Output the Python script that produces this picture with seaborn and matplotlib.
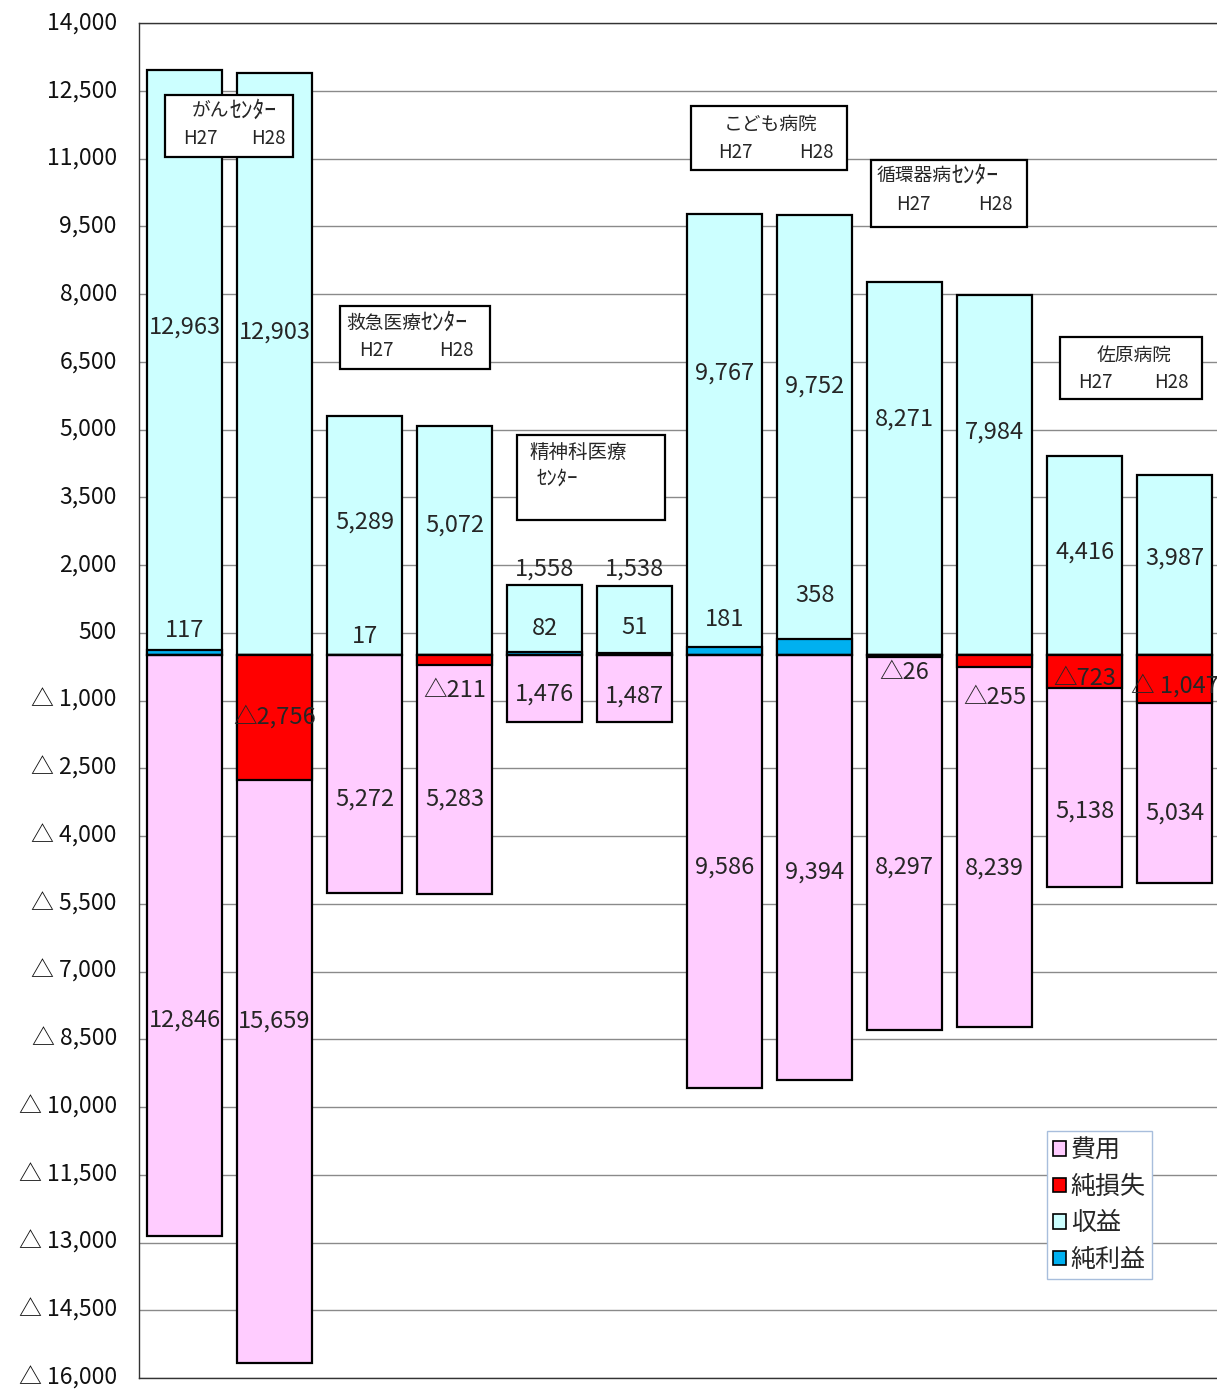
import numpy as np
import pandas as pd
import matplotlib
matplotlib.use("Agg")
import matplotlib.pyplot as plt
from matplotlib.patches import Patch, Rectangle
from matplotlib.ticker import FuncFormatter
import seaborn as sns

# データ（百万円）
bars = ["がんH27", "がんH28", "救急H27", "救急H28", "精神H27", "精神H28",
        "こどもH27", "こどもH28", "循環器H27", "循環器H28", "佐原H27", "佐原H28"]
revenue = [12963, 12903, 5289, 5072, 1558, 1538, 9767, 9752, 8271, 7984, 4416, 3987]
cost = [12846, 15659, 5272, 5283, 1476, 1487, 9586, 9394, 8297, 8239, 5138, 5034]
profit = [117, 0, 17, 0, 82, 51, 181, 358, 0, 0, 0, 0]
loss = [0, 2756, 0, 211, 0, 0, 0, 0, 26, 255, 723, 1047]
mid_text = ["117", "△2,756", "17", "△211", "82", "51",
            "181", "358", "△26", "△255", "△723", "△ 1,047"]

# ラベル位置（データ座標）
rev_lab_y = [7262, 7151, 2945, 2878, 1911, 1911, 6243, 5955, 5225, 4937, 2280, 2147]
mid_lab_y = [560, -1358, 427, -768, 604, 627, 804, 1335, -370, -923, -502, -679]
cost_lab_y = [-8076, -8098, -3183, -3183, -855, -900, -4687, -4797, -4687, -4709, -3447, -3491]

df = pd.DataFrame({"bar": bars, "rev": revenue, "cost": [-c for c in cost],
                   "profit": profit, "loss": [-l for l in loss]})

sns.set_theme(style="white")
plt.rcParams['font.family'] = ['Noto Sans CJK JP', 'DejaVu Sans']

W, H = 1217, 1389
fig = plt.figure(figsize=(W / 100, H / 100), dpi=100)
ax = fig.add_axes([139 / W, 1 - 1378 / H, (W - 139) / W, (1378 - 23) / H])

c_rev, c_prof, c_cost, c_loss = "#CCFFFF", "#00B0F0", "#FFCCFF", "#FF0000"
common = dict(data=df, x="bar", order=bars, ax=ax, width=0.833, saturation=1,
              errorbar=None, edgecolor="black", linewidth=1.6)
sns.barplot(y="rev", color=c_rev, **common)
sns.barplot(y="profit", color=c_prof, **common)
sns.barplot(y="cost", color=c_cost, **common)
sns.barplot(y="loss", color=c_loss, **common)

ax.set_xlim(-0.506, 11.47)
ax.set_ylim(-16000, 14000)
ax.set_yticks(np.arange(-16000, 14001, 1500))
ax.yaxis.set_major_formatter(FuncFormatter(
    lambda v, p: f"{int(v):,}" if v >= 0 else f"△ {int(-v):,}"))
ax.set_xticks([])
ax.set_xlabel("")
ax.set_ylabel("")
ax.tick_params(axis="y", length=0, pad=16, labelsize=16.5, labelcolor="#111111")
for lab in ax.get_yticklabels():
    lab.set_va("center")
ax.set_axisbelow(True)
ax.yaxis.grid(True, color="#8a8a8a", linewidth=1.0)
for side in ["left", "top", "bottom"]:
    ax.spines[side].set_visible(True)
    ax.spines[side].set_color("#333333")
    ax.spines[side].set_linewidth(1.0)
ax.spines["right"].set_visible(False)

# 数値ラベル
for i in range(len(bars)):
    ax.text(i, rev_lab_y[i], f"{revenue[i]:,}", ha="center", va="center", fontsize=17)
    ax.text(i, mid_lab_y[i], mid_text[i], ha="center", va="center", fontsize=17)
    ax.text(i, cost_lab_y[i], f"{cost[i]:,}", ha="center", va="center", fontsize=17)

# 病院名ボックス（ピクセル座標）
def px(x, y):
    return x / W, 1 - y / H

def name_box(x0, y0, x1, y1):
    fx, fy = px(x0, y1)
    fig.add_artist(Rectangle((fx, fy), (x1 - x0) / W, (y1 - y0) / H,
                             transform=fig.transFigure, facecolor="white",
                             edgecolor="black", linewidth=1.6, zorder=5))

def ftext(x, y, s, size=13.5, ha="center"):
    fx, fy = px(x, y)
    fig.text(fx, fy, s, ha=ha, va="center", fontsize=size, zorder=6)

def name_line(x, y, head, tail, size=13.5, tail_size=17):
    # 全角部分 + 半角カタカナ部分
    ftext(x, y, head, size, ha="left")
    ftext(x + len(head) * size / 0.72, y, tail, tail_size, ha="left")

name_box(165, 95, 293, 157)
name_line(192, 111, "がん", "ｾﾝﾀｰ")
ftext(200, 139, "H27"); ftext(268, 139, "H28")

name_box(340, 306, 490, 369)
name_line(346, 323, "救急医療", "ｾﾝﾀｰ")
ftext(376, 351, "H27"); ftext(456, 351, "H28")

name_box(517, 435, 665, 520)
ftext(529, 452, "精神科医療", 14, ha="left")
ftext(537, 480, "ｾﾝﾀｰ", 15, ha="left")

name_box(691, 106, 847, 170)
ftext(771, 124, "こども病院", 13.5)
ftext(735, 152, "H27"); ftext(816, 152, "H28")

name_box(871, 160, 1027, 227)
name_line(877, 176, "循環器病", "ｾﾝﾀｰ")
ftext(913, 205, "H27"); ftext(995, 205, "H28")

name_box(1060, 337, 1202, 399)
ftext(1134, 355, "佐原病院", 13.5)
ftext(1095, 383, "H27"); ftext(1171, 383, "H28")

# 凡例
handles = [Patch(facecolor=c, edgecolor="black", linewidth=1.2)
           for c in [c_cost, c_loss, c_rev, c_prof]]
leg = fig.legend(handles, ["費用", "純損失", "収益", "純利益"],
                 loc="upper left", bbox_to_anchor=px(1047, 1131),
                 fontsize=18, handlelength=0.5, handleheight=0.5,
                 handletextpad=0.2, labelspacing=0.42, borderpad=0.25,
                 borderaxespad=0, fancybox=False, framealpha=1)
leg.get_frame().set_edgecolor("#A8BEDC")
leg.get_frame().set_linewidth(1.0)

fig.savefig("out.png", dpi=100)
